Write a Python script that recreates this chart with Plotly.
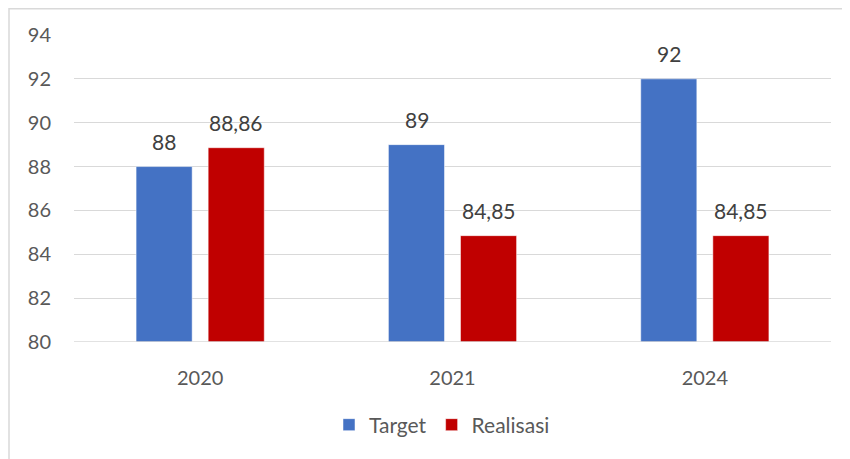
import plotly.graph_objects as go

categories = ["2020", "2021", "2024"]
target = [88, 89, 92]
realisasi = [88.86, 84.85, 84.85]
target_labels = ["88", "89", "92"]
realisasi_labels = ["88,86", "84,85", "84,85"]
y_ticks = [80, 82, 84, 86, 88, 90, 92, 94]

FONT = "Lato"
OFF = 8  # default page body margin
W, H = 850 - OFF, 459 - OFF
# plot area in page pixels: x 74..831, y 35..342
L, R, T, B = 74 - OFF, 850 - 831, 35 - OFF, 459 - 342
pw, ph = W - L - R, H - T - B

fig = go.Figure()
fig.add_trace(go.Bar(
    name="Target", x=categories, y=target,
    marker=dict(color="#4472C4", line=dict(color="white", width=0.5)),
    cliponaxis=False,
))
fig.add_trace(go.Bar(
    name="Realisasi", x=categories, y=realisasi,
    marker=dict(color="#C00000", line=dict(color="white", width=0.5)),
    cliponaxis=False,
))

annotations = []
for series, labels, shift in ((target, target_labels, -36), (realisasi, realisasi_labels, 36)):
    for i, (v, t) in enumerate(zip(series, labels)):
        annotations.append(dict(
            x=i, y=v, xref="x", yref="y", text=t, showarrow=False,
            xshift=shift, yshift=11, yanchor="bottom",
            font=dict(family=FONT, size=21, color="#404040"),
        ))

def px_x(p):  # page px -> paper
    return (p - OFF - L) / pw

def px_y(p):
    return (H - B - (p - OFF)) / ph

fig.update_layout(
    width=W, height=H,
    margin=dict(l=L, r=R, t=T, b=B, autoexpand=False),
    paper_bgcolor="white", plot_bgcolor="white",
    barmode="group", bargap=0.4286, bargroupgap=0.222,
    font=dict(family=FONT, color="#595959", size=20),
    showlegend=True,
    legend=dict(orientation="h", x=px_x(442), xanchor="center", y=px_y(425), yanchor="middle",
                font=dict(family=FONT, size=21, color="#595959"), itemwidth=30,
                traceorder="normal"),
    xaxis=dict(type="category", range=[-0.5, len(categories) - 0.5],
               showgrid=False, showline=False, ticks="",
               ticklabelstandoff=22,
               tickfont=dict(family=FONT, size=20, color="#595959")),
    yaxis=dict(range=[80, 94], tickvals=y_ticks, showgrid=True, gridcolor="#D9D9D9",
               gridwidth=1, zeroline=False, showline=False, ticks="",
               ticklabelstandoff=22,
               tickfont=dict(family=FONT, size=20, color="#595959")),
    annotations=annotations,
    shapes=[
        dict(type="line", xref="paper", yref="paper", x0=px_x(9), x1=px_x(850),
             y0=px_y(OFF + 0.75), y1=px_y(OFF + 0.75), line=dict(color="#D9D9D9", width=1.5)),
        dict(type="line", xref="paper", yref="paper", x0=px_x(9), x1=px_x(9),
             y0=px_y(OFF), y1=px_y(459), line=dict(color="#D9D9D9", width=1.5)),
        dict(type="line", xref="paper", yref="y", x0=0, x1=1, y0=80, y1=80,
             line=dict(color="#D9D9D9", width=1.5)),
    ],
)
fig.write_html("out.html")
